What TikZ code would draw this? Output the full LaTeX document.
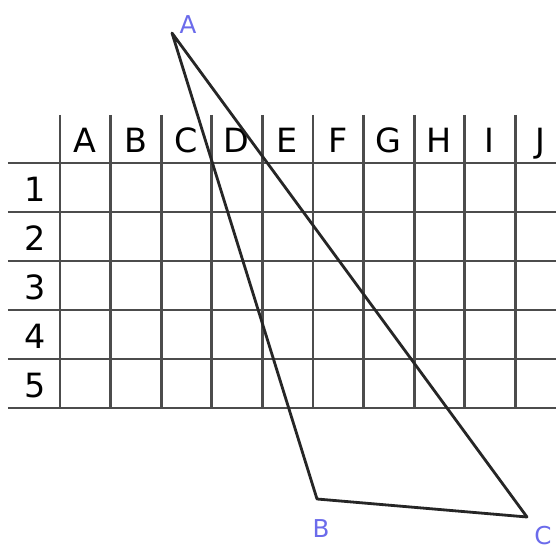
\documentclass[tikz,border=0pt]{standalone}
\usepackage{fontspec}
\setsansfont{DejaVu Sans}
\definecolor{gridgray}{rgb}{0.3,0.3,0.3}
\definecolor{pointblue}{rgb}{0.42,0.42,0.92}
\tikzset{
  rejilla/.style={
    draw=gridgray,
    line width=1.5pt
  },
  cabecera/.style={
    font=\sffamily\fontsize{19}{19}\selectfont,
    anchor=base,
    inner sep=0pt
  },
  etiqueta/.style={
    font=\sffamily\fontsize{14}{14}\selectfont,
    text=pointblue,
    inner sep=0pt
  },
  lado/.style={
    draw=black!85,
    line width=1.6pt,
    line join=round
  }
}
\begin{document}
\begin{tikzpicture}[x=0.02cm,y=-0.02cm]
\useasboundingbox (0,0) rectangle (556,551);
% tabla
\foreach \y in {0,...,5}
  \draw[rejilla] (8,{163+49*\y}) -- (556,{163+49*\y});
\foreach \x in {0,...,9}
  \draw[rejilla] ({60+50.6*\x},115) -- ({60+50.6*\x},408);
\foreach \l [count=\i from 0] in {A,B,C,D,E,F,G,H,I,J}
  \node[cabecera] (col\l) at ({85+50.6*\i},153) {\l};
\foreach \n [count=\i from 0] in {1,...,5}
  \node[cabecera] (fila\n) at (35,{202+49*\i}) {\n};
% triangulo
\coordinate (A) at (172,33);
\coordinate (B) at (317,499);
\coordinate (C) at (527,517);
\draw[lado] (A) -- (B) -- (C) -- cycle;
\node[etiqueta] (etqA) at (188,25) {A};
\node[etiqueta] (etqB) at (321,529) {B};
\node[etiqueta] (etqC) at (543,536) {C};
\end{tikzpicture}
\end{document}
